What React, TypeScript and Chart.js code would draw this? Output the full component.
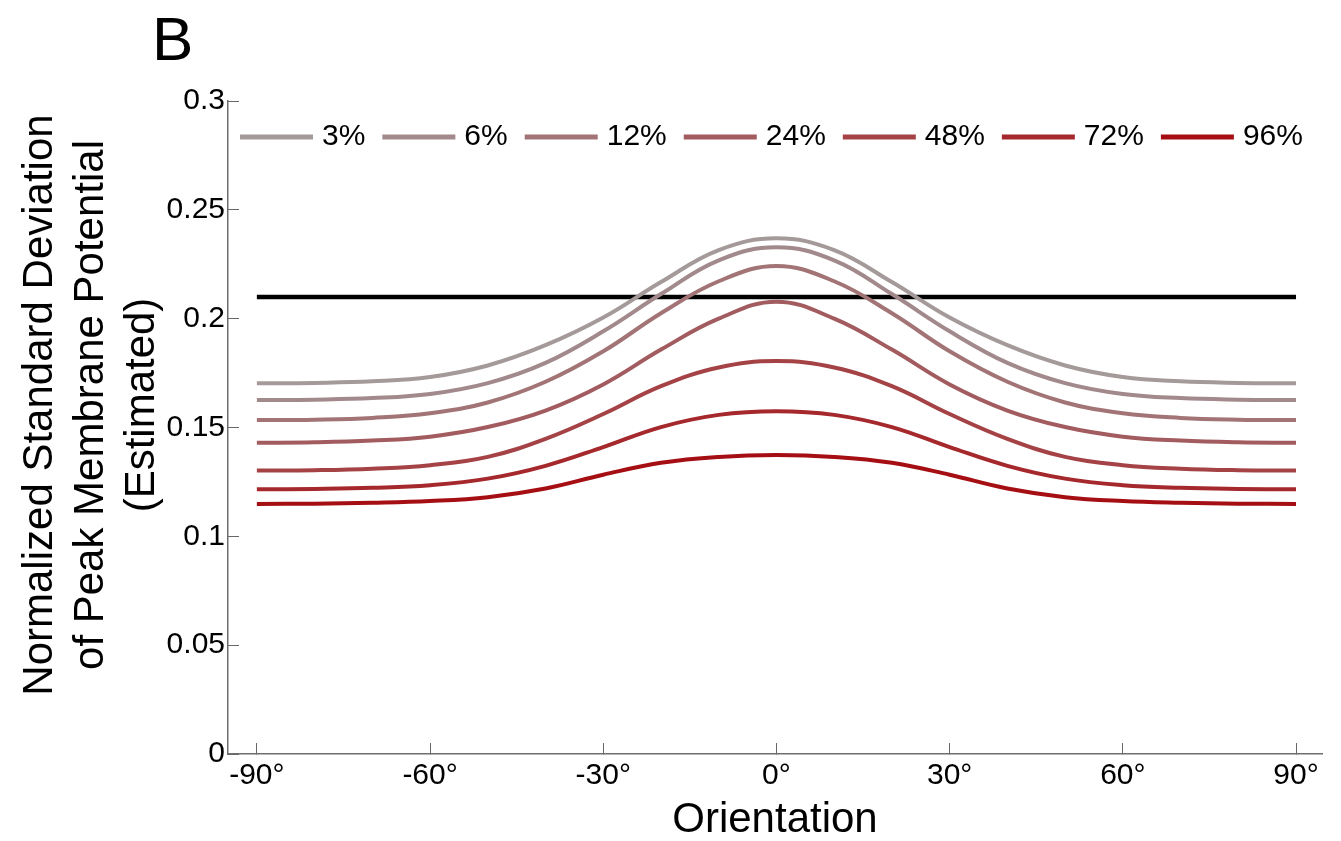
import React, { useEffect, useRef } from "react";
import { Chart, registerables } from "chart.js";

Chart.register(...registerables);

const angles = [-90, -80, -70, -60, -50, -40, -30, -20, -10, 0, 10, 20, 30, 40, 50, 60, 70, 80, 90];

const s3 = [0.1703, 0.1705, 0.1712, 0.1732, 0.1785, 0.1878, 0.2005, 0.2168, 0.2315, 0.2369, 0.2315, 0.2168, 0.2005, 0.1878, 0.1785, 0.1732, 0.1712, 0.1705, 0.1703];
const s6 = [0.1626, 0.1628, 0.1635, 0.1654, 0.1704, 0.1797, 0.1942, 0.2113, 0.2268, 0.2328, 0.2268, 0.2113, 0.1942, 0.1797, 0.1704, 0.1654, 0.1635, 0.1628, 0.1626];
const s12 = [0.1534, 0.1536, 0.1544, 0.1565, 0.1615, 0.1710, 0.1850, 0.2025, 0.2172, 0.2242, 0.2172, 0.2025, 0.1850, 0.1710, 0.1615, 0.1565, 0.1544, 0.1536, 0.1534];
const s24 = [0.1430, 0.1432, 0.1440, 0.1458, 0.1502, 0.1578, 0.1698, 0.1858, 0.2000, 0.2078, 0.2000, 0.1858, 0.1698, 0.1578, 0.1502, 0.1458, 0.1440, 0.1432, 0.1430];
const s48 = [0.1302, 0.1304, 0.1311, 0.1327, 0.1365, 0.1448, 0.1562, 0.1690, 0.1776, 0.1805, 0.1776, 0.1690, 0.1562, 0.1448, 0.1365, 0.1327, 0.1311, 0.1304, 0.1302];
const s72 = [0.1216, 0.1218, 0.1223, 0.1235, 0.1265, 0.1324, 0.1410, 0.1502, 0.1558, 0.1575, 0.1558, 0.1502, 0.1410, 0.1324, 0.1265, 0.1235, 0.1223, 0.1218, 0.1216];
const s96 = [0.1149, 0.1150, 0.1154, 0.1162, 0.1180, 0.1220, 0.1283, 0.1338, 0.1365, 0.1374, 0.1365, 0.1338, 0.1283, 0.1220, 0.1180, 0.1162, 0.1154, 0.1150, 0.1149];

const seriesLabels = ["3%", "6%", "12%", "24%", "48%", "72%", "96%"];
const seriesValues = [s3, s6, s12, s24, s48, s72, s96];
const seriesColors = ["#a59a9a", "#a2898b", "#a27476", "#a25b5e", "#a44246", "#a5282c", "#a50f14"];

const thresholdAngles = [-90, 90];
const thresholdValues = [0.21, 0.21];

const xTickValues = [-90, -60, -30, 0, 30, 60, 90];
const yTickValues = [0, 0.05, 0.1, 0.15, 0.2, 0.25, 0.3];
const yTickLabels = ["0", "0.05", "0.1", "0.15", "0.2", "0.25", "0.3"];

const yTitleLines = ["Normalized Standard Deviation", "of Peak Membrane Potential", "(Estimated)"];

const FONT = "'Liberation Sans', Arial, Helvetica, sans-serif";

const overlayPlugin = {
  id: "overlay",
  afterDraw(chart: any) {
    const ctx = chart.ctx;
    ctx.save();
    // Panel letter
    ctx.fillStyle = "#000";
    ctx.font = `62px ${FONT}`;
    ctx.textAlign = "left";
    ctx.textBaseline = "alphabetic";
    ctx.fillText("B", 152, 60);

    // Y axis title (three lines, rotated)
    ctx.save();
    ctx.font = `42px ${FONT}`;
    ctx.textAlign = "center";
    ctx.textBaseline = "middle";
    ctx.translate(40, 405);
    ctx.rotate(-Math.PI / 2);
    yTitleLines.forEach((line, i) => {
      ctx.fillText(line, 0, i * 51);
    });
    ctx.restore();

    // Legend inside plot
    ctx.font = `30px ${FONT}`;
    ctx.textAlign = "left";
    ctx.textBaseline = "middle";
    let x = 240;
    const y = 137;
    const lineLen = 73;
    chart.data.datasets.forEach((ds: any) => {
      if (!seriesLabels.includes(ds.label)) return;
      ctx.strokeStyle = ds.borderColor;
      ctx.lineWidth = 5;
      ctx.lineCap = "butt";
      ctx.beginPath();
      ctx.moveTo(x, y);
      ctx.lineTo(x + lineLen, y);
      ctx.stroke();
      x += lineLen + 9;
      ctx.fillStyle = "#000";
      ctx.fillText(ds.label, x, y);
      x += ctx.measureText(ds.label).width + 17;
    });
    ctx.restore();
  },
};

export default function App() {
  const ref = useRef<HTMLCanvasElement>(null);
  useEffect(() => {
    if (!ref.current) return;
    const datasets: any[] = seriesLabels.map((label, i) => ({
      label,
      data: angles.map((a, j) => ({ x: a, y: seriesValues[i][j] })),
      borderColor: seriesColors[i],
      backgroundColor: seriesColors[i],
      borderWidth: 4,
      pointRadius: 0,
      tension: 0.4,
      fill: false,
    }));
    datasets.push({
      label: "threshold",
      data: thresholdAngles.map((a, j) => ({ x: a, y: thresholdValues[j] })),
      borderColor: "#000",
      backgroundColor: "#000",
      borderWidth: 4.5,
      pointRadius: 0,
      fill: false,
    });
    const chart = new Chart(ref.current, {
      type: "line",
      data: { datasets },
      options: {
        animation: false,
        responsive: false,
        devicePixelRatio: 1,
        layout: { padding: { top: 101, right: 19, left: 0, bottom: 0 } },
        plugins: { legend: { display: false }, tooltip: { enabled: false }, title: { display: false } },
        scales: {
          x: {
            type: "linear",
            min: -95,
            max: 94.5,
            afterFit: (s: any) => { s.height = 87; },
            afterBuildTicks: (s: any) => { s.ticks = xTickValues.map((v) => ({ value: v })); },
            ticks: {
              autoSkip: false,
              maxRotation: 0,
              padding: 15,
              color: "#000",
              font: { family: FONT, size: 30 },
              callback: (v: any) => `${v}°`,
            },
            grid: { drawOnChartArea: false, drawTicks: true, tickLength: -11, color: "#666", lineWidth: 1 },
            border: { display: true, color: "#6e6e6e", width: 1.5 },
            title: {
              display: true,
              text: "Orientation",
              color: "#000",
              font: { family: FONT, size: 42, lineHeight: 1 },
              padding: { top: 0, bottom: 0 },
            },
          },
          y: {
            type: "linear",
            min: 0,
            max: 0.3,
            afterFit: (s: any) => { s.width = 228; },
            afterBuildTicks: (s: any) => { s.ticks = yTickValues.map((v) => ({ value: v })); },
            ticks: {
              autoSkip: false,
              padding: 14,
              color: "#000",
              font: { family: FONT, size: 30 },
              callback: (_v: any, i: number) => yTickLabels[i],
            },
            grid: { drawOnChartArea: false, drawTicks: true, tickLength: -11, color: "#666", lineWidth: 1 },
            border: { display: true, color: "#6e6e6e", width: 1.5 },
            title: { display: false },
          },
        },
      },
      plugins: [overlayPlugin],
    });
    return () => chart.destroy();
  }, []);
  return (
    <div style={{ position: "fixed", left: 0, top: 0, width: 1341, height: 841, background: "#fff" }}>
      <canvas ref={ref} width={1341} height={841} style={{ width: 1341, height: 841 }} />
    </div>
  );
}
